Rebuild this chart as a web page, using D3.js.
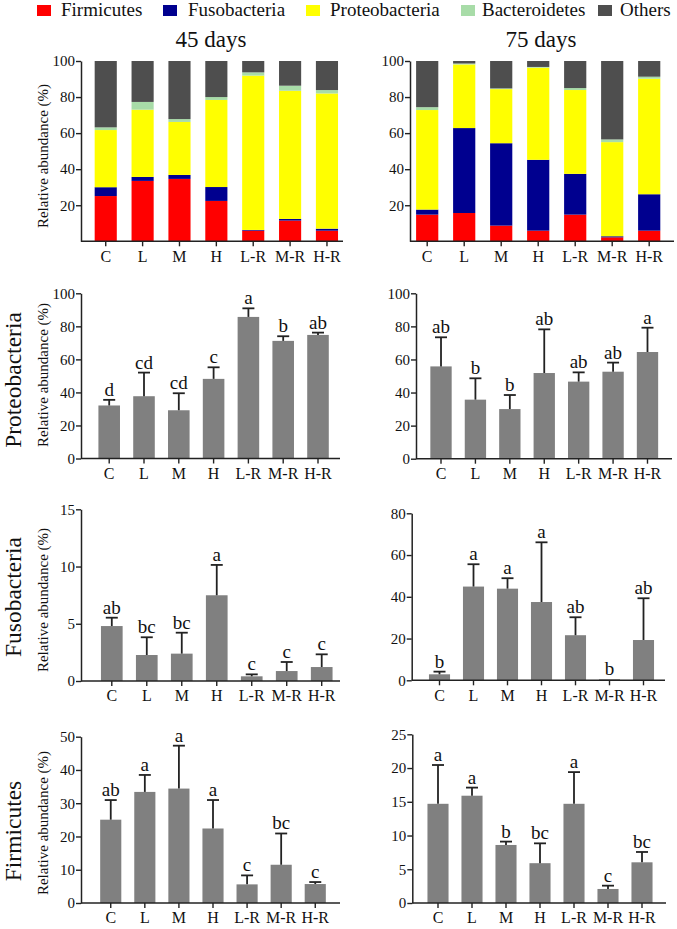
<!DOCTYPE html>
<html><head><meta charset="utf-8">
<script src="https://cdn.jsdelivr.net/npm/d3@7"></script>
<style>
body{margin:0;background:#fff}
text{font-family:"Liberation Serif","Times New Roman",Times,serif;fill:#111}
</style>
</head><body>
<svg id="chart" width="677" height="929"></svg>
<script>
// ---------- DATA ----------
const groups = ["C","L","M","H","L-R","M-R","H-R"];
const phyla = ["Firmicutes","Fusobacteria","Proteobacteria","Bacteroidetes","Others"];
const phylaColors = ["#ff0000","#00008f","#ffff00","#a8dca8","#4e4e4e"];
const dayTitles = ["45 days","75 days"];
const rowTitles = ["Proteobacteria","Fusobacteria","Firmicutes"];
const yTitle = "Relative abundance (%)";

// stacked composition (%), per phylum
const firmicutes45     = [25.1,33.5,34.6,22.4,5.9,11.5,5.9];
const fusobacteria45   = [4.9,2.2,2.2,7.7,0.4,0.9,1.1];
const proteobacteria45 = [31.7,37.3,29.4,48.3,85.6,71.1,75.0];
const bacteroidetes45  = [1.5,4.3,1.6,1.6,1.8,2.8,1.9];
const others45         = [36.8,22.7,32.2,20.0,6.3,13.7,16.1];

const firmicutes75     = [14.8,15.7,8.7,5.9,14.8,2.2,5.9];
const fusobacteria75   = [2.8,47.1,45.7,39.3,22.6,0.6,20.2];
const proteobacteria75 = [55.2,35.3,30.0,51.1,46.5,52.2,64.1];
const bacteroidetes75  = [1.6,0.5,0.4,0.4,1.1,1.5,1.1];
const others75         = [25.6,1.4,15.2,3.3,15.0,43.5,8.7];

// mean and error for single-phylum panels
const proteoMean45 = [32.1,37.7,29.2,48.2,85.7,71.2,74.8];
const proteoErr45  = [3.4,14.3,10.3,7.0,5.2,2.8,1.4];
const proteoSig45  = ["d","cd","cd","c","a","b","ab"];
const proteoMean75 = [55.8,35.7,30.0,51.8,46.6,52.6,64.5];
const proteoErr75  = [17.6,12.9,8.5,26.4,5.6,5.5,14.7];
const proteoSig75  = ["ab","b","b","ab","ab","ab","a"];

const fusoMean45 = [4.8,2.27,2.39,7.49,0.41,0.87,1.22];
const fusoErr45  = [0.73,1.55,1.83,2.65,0.17,0.79,1.11];
const fusoSig45  = ["ab","bc","bc","a","c","c","c"];
const fusoMean75 = [2.87,44.9,43.9,37.5,21.6,0.5,19.3];
const fusoErr75  = [1.28,10.7,5.0,28.6,8.6,0,20.0];
const fusoSig75  = ["b","a","a","a","ab","b","ab"];

const firmMean45 = [25.05,33.4,34.4,22.4,5.6,11.5,5.7];
const firmErr45  = [5.9,5.1,12.9,8.56,2.7,9.4,0.6];
const firmSig45  = ["ab","a","a","a","c","bc","c"];
const firmMean75 = [14.7,15.9,8.6,5.9,14.7,2.08,6.03];
const firmErr75  = [5.75,1.2,0.5,2.94,4.7,0.49,1.53];
const firmSig75  = ["a","a","b","bc","a","c","bc"];

const ticksStack = [20,40,60,80,100];
const ticksProteo = [0,20,40,60,80,100];
const ticksFuso45 = [0,5,10,15];
const ticksFuso75 = [0,20,40,60,80];
const ticksFirm45 = [0,10,20,30,40,50];
const ticksFirm75 = [0,5,10,15,20,25];

// ---------- LAYOUT ----------
const svg = d3.select("#chart");
const FONT = '"Liberation Serif","Times New Roman",Times,serif';

const stackPanels = [
  {cols:[firmicutes45,fusobacteria45,proteobacteria45,bacteroidetes45,others45], ax:81, axEnd:343, band:[87.3,345.4], y0:241.3, y1:61, max:100},
  {cols:[firmicutes75,fusobacteria75,proteobacteria75,bacteroidetes75,others75], ax:410, axEnd:674, band:[408.7,667.7], y0:241.3, y1:61, max:100}
];

const barPanels = [
  {mean:proteoMean45, err:proteoErr45, sig:proteoSig45, ticks:ticksProteo, max:100, ax:81, axEnd:340, band:[91.8,335.4], y0:458.5, y1:293.3},
  {mean:proteoMean75, err:proteoErr75, sig:proteoSig75, ticks:ticksProteo, max:100, ax:416, axEnd:672, band:[423.8,664.7], y0:458.7, y1:293.3},
  {mean:fusoMean45, err:fusoErr45, sig:fusoSig45, ticks:ticksFuso45, max:15, ax:81, axEnd:340, band:[94.3,339.2], y0:681, y1:509.3},
  {mean:fusoMean75, err:fusoErr75, sig:fusoSig75, ticks:ticksFuso75, max:80, ax:411.7, axEnd:665, band:[422.5,660.5], y0:680.3, y1:513.3},
  {mean:firmMean45, err:firmErr45, sig:firmSig45, ticks:ticksFirm45, max:50, ax:81, axEnd:340, band:[93.7,332.3], y0:903, y1:736.7},
  {mean:firmMean75, err:firmErr75, sig:firmSig75, ticks:ticksFirm75, max:25, ax:412.3, axEnd:666, band:[421,659], y0:903, y1:734.3}
];

function drawAxes(g, p, x, y, ticks){
  const ya = g.append("g").attr("transform",`translate(${p.ax},0)`)
    .call(d3.axisLeft(y).tickValues(ticks).tickSize(5).tickPadding(1).tickSizeOuter(0));
  ya.select(".domain").attr("stroke","#222").attr("stroke-width",1.5);
  ya.selectAll(".tick line").attr("stroke","#222").attr("stroke-width",1.4);
  ya.selectAll(".tick text").attr("font-family",FONT).attr("font-size",15).attr("fill","#111");
  const xa = g.append("g").attr("transform",`translate(0,${p.y0})`)
    .call(d3.axisBottom(x).tickSize(5).tickPadding(4).tickSizeOuter(0));
  xa.select(".domain").remove();
  xa.selectAll(".tick line").attr("stroke","#222").attr("stroke-width",1.4);
  xa.selectAll(".tick text").attr("font-family",FONT).attr("font-size",16).attr("fill","#111");
  g.append("line").attr("x1",p.ax).attr("x2",p.axEnd).attr("y1",p.y0).attr("y2",p.y0)
    .attr("stroke","#222").attr("stroke-width",1.5);
}

// legend
const legendX = [{sq:37,tx:61},{sq:163,tx:188},{sq:306,tx:330},{sq:461,tx:482},{sq:598,tx:620}];
const leg = svg.append("g");
phyla.forEach((name,i)=>{
  leg.append("rect").attr("x",legendX[i].sq).attr("y",5).attr("width",14).attr("height",11).attr("fill",phylaColors[i]);
  leg.append("text").attr("x",legendX[i].tx).attr("y",16).attr("font-size",19).text(name);
});

// day titles
[211,541].forEach((cx,i)=>{
  svg.append("text").attr("x",cx).attr("y",47).attr("text-anchor","middle").attr("font-size",23).text(dayTitles[i]);
});

// stacked panels
stackPanels.forEach(p=>{
  const g = svg.append("g");
  const x = d3.scaleBand().domain(groups).range(p.band).paddingInner(0.4).paddingOuter(0.2);
  const y = d3.scaleLinear().domain([0,p.max]).range([p.y0,p.y1]);
  const rows = groups.map((gr,i)=>{const o={group:gr}; phyla.forEach((ph,k)=>o[ph]=p.cols[k][i]); return o;});
  const series = d3.stack().keys(phyla)(rows);
  g.selectAll("g.s").data(series).join("g").attr("fill",(d,i)=>phylaColors[i])
    .selectAll("rect").data(d=>d).join("rect")
    .attr("x",d=>x(d.data.group)).attr("width",x.bandwidth())
    .attr("y",d=>y(d[1])).attr("height",d=>Math.max(0,y(d[0])-y(d[1])));
  drawAxes(g,p,x,y,ticksStack);
});

// bar panels with error bars
barPanels.forEach(p=>{
  const g = svg.append("g");
  const x = d3.scaleBand().domain(groups).range(p.band).paddingInner(0.38).paddingOuter(0.19);
  const y = d3.scaleLinear().domain([0,p.max]).range([p.y0,p.y1]);
  const data = groups.map((gr,i)=>({group:gr, m:p.mean[i], e:p.err[i], s:p.sig[i]}));
  g.selectAll("rect").data(data).join("rect")
    .attr("x",d=>x(d.group)).attr("width",x.bandwidth())
    .attr("y",d=>y(d.m)).attr("height",d=>y(0)-y(d.m))
    .attr("fill","#808080");
  const cx = d=>x(d.group)+x.bandwidth()/2;
  const eb = g.selectAll("g.eb").data(data.filter(d=>d.e>0)).join("g");
  eb.append("line").attr("x1",cx).attr("x2",cx).attr("y1",d=>y(d.m)).attr("y2",d=>y(d.m+d.e))
    .attr("stroke","#222").attr("stroke-width",1.8);
  eb.append("line").attr("x1",d=>cx(d)-6).attr("x2",d=>cx(d)+6).attr("y1",d=>y(d.m+d.e)).attr("y2",d=>y(d.m+d.e))
    .attr("stroke","#222").attr("stroke-width",1.8);
  g.selectAll("text.sig").data(data).join("text").attr("class","sig")
    .attr("x",cx).attr("y",d=>y(d.m+d.e)-4).attr("text-anchor","middle")
    .attr("font-size",19).text(d=>d.s);
  drawAxes(g,p,x,y,p.ticks);
});

// y-axis titles (left column)
[156,375,600,823].forEach(cy=>{
  svg.append("text").attr("transform",`translate(48,${cy}) rotate(-90)`)
    .attr("text-anchor","middle").attr("font-size",15).text(yTitle);
});
// row titles
[380,597,831].forEach((cy,i)=>{
  svg.append("text").attr("transform",`translate(21,${cy}) rotate(-90)`)
    .attr("text-anchor","middle").attr("font-size",23.5).text(rowTitles[i]);
});
</script>
</body></html>
